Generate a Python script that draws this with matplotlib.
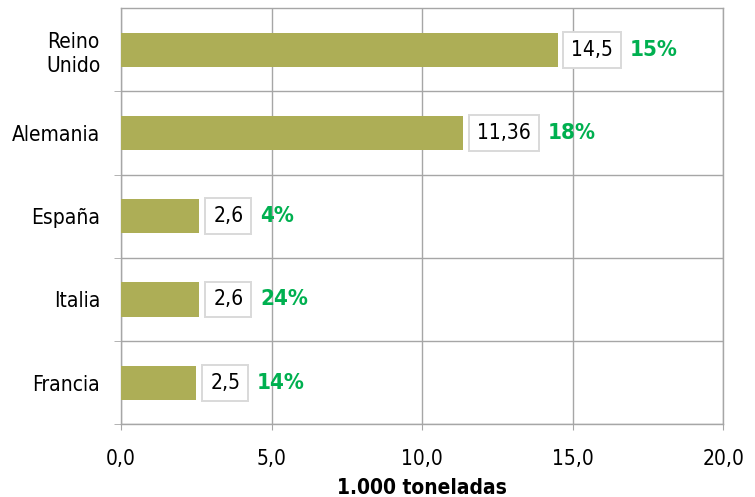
import matplotlib.pyplot as plt
import numpy as np

# datos
paises = ["Reino\nUnido", "Alemania", "España", "Italia", "Francia"]
valores = [14.5, 11.36, 2.6, 2.6, 2.5]
etiquetas = ["14,5", "11,36", "2,6", "2,6", "2,5"]
porcentajes = ["15%", "18%", "4%", "24%", "14%"]
xticks = [0, 5, 10, 15, 20]
xtick_labels = ["0,0", "5,0", "10,0", "15,0", "20,0"]

plt.rcParams['font.family'] = ['DejaVu Sans']
plt.rcParams['font.stretch'] = 'condensed'

color_barra = '#ADAE56'
color_gris = '#A6A6A6'
color_verde = '#00B050'
fs = 15

fig = plt.figure(figsize=(7.55, 4.97), dpi=100)
ax = fig.add_axes([0.1603, 0.1463, 0.7974, 0.8370])

y = np.arange(len(paises))
ax.barh(y, valores, height=0.41, color=color_barra, zorder=3)

ax.set_xlim(0, 20)
ax.set_ylim(len(paises) - 0.5, -0.5)

ax.set_xticks(xticks)
ax.set_xticklabels(xtick_labels, fontsize=fs)
ax.set_yticks(y)
ax.set_yticklabels(paises, fontsize=fs, multialignment='center', linespacing=1.25)
ax.set_yticks(np.arange(len(paises)) + 0.5, minor=True)

ax.tick_params(axis='x', which='major', length=4, color=color_gris, pad=14)
ax.tick_params(axis='y', which='major', length=0, pad=15)
ax.tick_params(axis='y', which='minor', length=5, color=color_gris)

ax.grid(True, axis='x', which='major', color=color_gris, linewidth=1, zorder=0)
ax.grid(True, axis='y', which='minor', color=color_gris, linewidth=1, zorder=0)
ax.set_axisbelow(True)
for s in ax.spines.values():
    s.set_color(color_gris)
    s.set_linewidth(1)

ax.set_xlabel("1.000 toneladas", fontsize=fs, fontweight='bold', labelpad=6)

# etiquetas de valor con recuadro y porcentaje en verde
for i in range(len(valores)):
    t = ax.annotate(etiquetas[i], xy=(valores[i], y[i]), xytext=(10, 0),
                    textcoords='offset points', ha='left', va='center',
                    fontsize=fs, zorder=5,
                    bbox=dict(boxstyle='square,pad=0.38', facecolor='white',
                              edgecolor='#D9D9D9', linewidth=1.4))
    ax.annotate(porcentajes[i], xy=(1, 0.5), xycoords=t, xytext=(12, 0),
                textcoords='offset points', ha='left', va='center',
                fontsize=16, fontweight='bold', color=color_verde, zorder=5)

plt.savefig('out.png', dpi=100)
